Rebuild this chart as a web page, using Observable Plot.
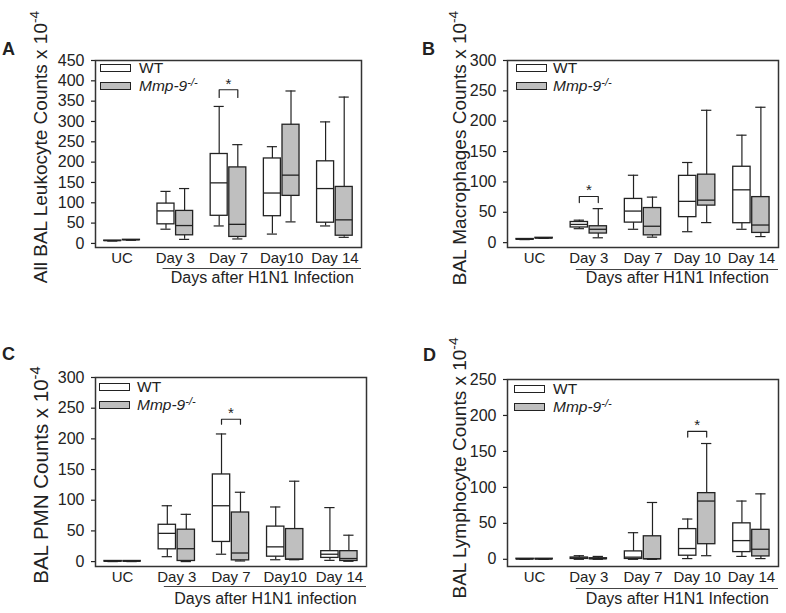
<!DOCTYPE html>
<html>
<head>
<meta charset="utf-8">
<script src="https://cdn.jsdelivr.net/npm/d3@7"></script>
<script src="https://cdn.jsdelivr.net/npm/@observablehq/plot@0.6"></script>
<style>
  body { margin: 0; background: #fff; }
  #fig { position: relative; width: 786px; height: 613px; overflow: hidden; background: #fff;
         font-family: "Liberation Sans", Arial, Helvetica, sans-serif; color: #222; }
  .pl { position: absolute; }
  .ylab { position: absolute; white-space: nowrap; line-height: 1; transform: translate(-50%, -50%) rotate(-90deg); }
  .ylab sup { font-size: 0.72em; vertical-align: 0; position: relative; top: -0.55em; }
  .letter { position: absolute; font-weight: bold; font-size: 18px; line-height: 1; }
  .sw { position: absolute; box-sizing: border-box; border: 1.3px solid #222; }
  .lt { position: absolute; font-size: 15.5px; line-height: 1; white-space: nowrap; }
  .lt sup { font-size: 11px; position: relative; top: -0.45em; vertical-align: 0; }
</style>
</head>
<body>
<div id="fig"></div>
<script>
// ---------- data (five-number summaries: min, Q1, median, Q3, max) ----------
const daysAC = ["UC", "Day 3", "Day 7", "Day10", "Day 14"];
const daysBD = ["UC", "Day 3", "Day 7", "Day 10", "Day 14"];
const groups = ["WT", "Mmp-9-/-"];

// A: All BAL leukocyte counts
const leukWT = [[6,6,7,7,7],[35,47,80,98,128],[43,68,149,220,337],[23,67,124,209,238],[43,51,135,202,299]];
const leukKO = [[8,8,9,9,9],[10,20,44,80,135],[11,16,47,187,243],[53,117,168,292,375],[15,19,58,139,360]];
// B: BAL macrophages
const macWT = [[5,5,5.5,6,6],[23,25,30,34,37],[22,33,52,72,111],[18,42,68,110,132],[22,32,87,125,177]];
const macKO = [[7,7,7.5,8,8],[8,15,22,27,56],[9,12,27,57,75],[33,61,70,112,218],[10,16,29,75,223]];
// C: BAL PMN
const pmnWT = [[0,0,0.5,1,1],[8,20,46,60,91],[12,32,91,142,208],[3,8,24,57,89],[2,6,12,17,88]];
const pmnKO = [[0,0,0.5,1,1],[0,1,21,52,77],[1,2,14,80,113],[3,3,4,53,131],[0.5,1,5,17,43]];
// D: BAL lymphocytes
const lymWT = [[0,0,0.3,0.8,0.8],[0,0.5,1.5,2.5,5],[0,0.5,3,11,37],[1,5,15,42,56],[4,10,26,50,81]];
const lymKO = [[0,0,0.3,0.8,0.8],[0,0.2,0.8,1.5,4],[0,0,0.8,32,79],[5,21,81,92,161],[1,4,14,41,91]];

const yTicksA = [0,50,100,150,200,250,300,350,400,450];
const yTicksB = [0,50,100,150,200,250,300];
const yTicksC = [0,50,100,150,200,250,300];
const yTicksD = [0,50,100,150,200,250];

const yLabels = ["All BAL Leukocyte Counts x 10", "BAL Macrophages Counts x 10", "BAL PMN Counts x 10", "BAL Lymphocyte Counts x 10"];
const groupLabels = ["Days after H1N1 Infection", "Days after H1N1 Infection", "Days after H1N1 infection", "Days after H1N1 Infection"];

// ---------- layout ----------
const panels = [
  { key: "A", wt: leukWT, ko: leukKO, days: daysAC, yTicks: yTicksA, yDomain: [-10, 450],
    left: 0, top: 0, w: 393, h: 300, m: [60, 32, 53, 95], sig: { i: 2, top: 378, leg: 359 },
    brDy: 21, labDy: 35, ylab: yLabels[0], ylabX: 40, ylabY: 147, ylabSize: 19, glab: groupLabels[0],
    letter: [2, 40], legend: [100, 64, 139] },
  { key: "B", wt: macWT, ko: macKO, days: daysBD, yTicks: yTicksB, yDomain: [-8, 300],
    left: 393, top: 0, w: 393, h: 300, m: [60, 8, 53, 114], sig: { i: 1, top: 76, leg: 66 },
    brDy: 22, labDy: 35, ylab: yLabels[1], ylabX: 459, ylabY: 148, ylabSize: 19, glab: groupLabels[1],
    letter: [422, 40], legend: [516, 64, 553] },
  { key: "C", wt: pmnWT, ko: pmnKO, days: daysAC, yTicks: yTicksC, yDomain: [-8, 300],
    left: 0, top: 300, w: 393, h: 313, m: [77, 27, 47, 95], sig: { i: 2, top: 232, leg: 224 },
    brDy: 20, labDy: 37, ylab: yLabels[2], ylabX: 41, ylabY: 475, ylabSize: 20.5, glab: groupLabels[2],
    letter: [2, 345], legend: [99, 383, 137] },
  { key: "D", wt: lymWT, ko: lymKO, days: daysBD, yTicks: yTicksD, yDomain: [-10, 250],
    left: 393, top: 300, w: 393, h: 313, m: [79, 8, 47, 114], sig: { i: 3, top: 178, leg: 170 },
    brDy: 22, labDy: 37, ylab: yLabels[3], ylabX: 459, ylabY: 468, ylabSize: 19, glab: groupLabels[3],
    letter: [423, 346], legend: [514, 385, 553] }
];

const fig = document.getElementById("fig");
const INK = "#222";
const GREY = "#bfbfbf";

function drawPanel(p) {
  const rows = [];
  p.wt.forEach((v, i) => rows.push({ i, g: groups[0], off: -0.175, min: v[0], q1: v[1], med: v[2], q3: v[3], max: v[4] }));
  p.ko.forEach((v, i) => rows.push({ i, g: groups[1], off: 0.175, min: v[0], q1: v[1], med: v[2], q3: v[3], max: v[4] }));
  const half = 0.16, cap = 0.095;
  const cx = d => d.i + d.off;
  const s = p.sig;
  const bracket = [
    { x: s.i - 0.175, y: s.leg }, { x: s.i - 0.175, y: s.top },
    { x: s.i + 0.175, y: s.top }, { x: s.i + 0.175, y: s.leg }
  ];
  const chart = Plot.plot({
    width: p.w, height: p.h,
    marginTop: p.m[0], marginRight: p.m[1], marginBottom: p.m[2], marginLeft: p.m[3],
    x: { domain: [-0.5, 4.5] },
    y: { domain: p.yDomain },
    style: { fontFamily: '"Liberation Sans", Arial, sans-serif', color: INK, background: "transparent", overflow: "visible" },
    marks: [
      Plot.axisY({ ticks: p.yTicks, tickSize: 4, tickPadding: 7, fontSize: 16, label: null, strokeWidth: 1.2 }),
      Plot.axisX({ ticks: [0, 1, 2, 3, 4], tickFormat: i => p.days[i], tickSize: 0, tickPadding: 5, fontSize: 15, label: null }),
      Plot.ruleX(rows, { x: cx, y1: "min", y2: "max", stroke: INK, strokeWidth: 1.2 }),
      Plot.ruleY(rows, { y: "min", x1: d => cx(d) - cap, x2: d => cx(d) + cap, stroke: INK, strokeWidth: 1.2 }),
      Plot.ruleY(rows, { y: "max", x1: d => cx(d) - cap, x2: d => cx(d) + cap, stroke: INK, strokeWidth: 1.2 }),
      Plot.rect(rows, { x1: d => cx(d) - half, x2: d => cx(d) + half, y1: "q1", y2: "q3",
        fill: d => d.g === groups[0] ? "#fff" : GREY, stroke: INK, strokeWidth: 1.3 }),
      Plot.ruleY(rows, { y: "med", x1: d => cx(d) - half, x2: d => cx(d) + half, stroke: INK, strokeWidth: 1.3 }),
      Plot.line(bracket, { x: "x", y: "y", stroke: INK, strokeWidth: 1.2 }),
      Plot.text([s], { x: "i", y: "top", text: () => "*", dy: -6, fontSize: 15, fill: INK }),
      Plot.ruleY([p.yDomain[0]], { x1: 0.77, x2: 4.5, dy: p.brDy, stroke: "#444", strokeWidth: 1.2 }),
      Plot.text([p.glab], { x: () => 2.635, frameAnchor: "bottom", text: d => d, dy: p.labDy, fontSize: 16, fill: INK }),
      Plot.frame({ stroke: "#333", strokeWidth: 1.5 })
    ]
  });
  chart.classList.add("pl");
  chart.style.left = p.left + "px";
  chart.style.top = p.top + "px";
  fig.appendChild(chart);

  // y-axis title (rotated, with superscript exponent)
  const yl = document.createElement("div");
  yl.className = "ylab";
  yl.style.left = p.ylabX + "px";
  yl.style.top = p.ylabY + "px";
  yl.style.fontSize = p.ylabSize + "px";
  yl.innerHTML = p.ylab + "<sup>-4</sup>";
  fig.appendChild(yl);

  // panel letter
  const lt = document.createElement("div");
  lt.className = "letter";
  lt.style.left = p.letter[0] + "px";
  lt.style.top = p.letter[1] + "px";
  lt.textContent = p.key;
  fig.appendChild(lt);

  // legend
  const [lx, ly, tx] = p.legend;
  const items = [
    { fill: "#fff", html: "WT", y: ly },
    { fill: GREY, html: "<i>Mmp-9</i><sup><i>-/-</i></sup>", y: ly + 18 }
  ];
  items.forEach(it => {
    const sw = document.createElement("div");
    sw.className = "sw";
    sw.style.left = lx + "px"; sw.style.top = it.y + "px";
    sw.style.width = "31px"; sw.style.height = "8px";
    sw.style.background = it.fill;
    fig.appendChild(sw);
    const t = document.createElement("div");
    t.className = "lt";
    t.style.left = tx + "px"; t.style.top = (it.y - 4) + "px";
    t.innerHTML = it.html;
    fig.appendChild(t);
  });
}

panels.forEach(drawPanel);
</script>
</body>
</html>
